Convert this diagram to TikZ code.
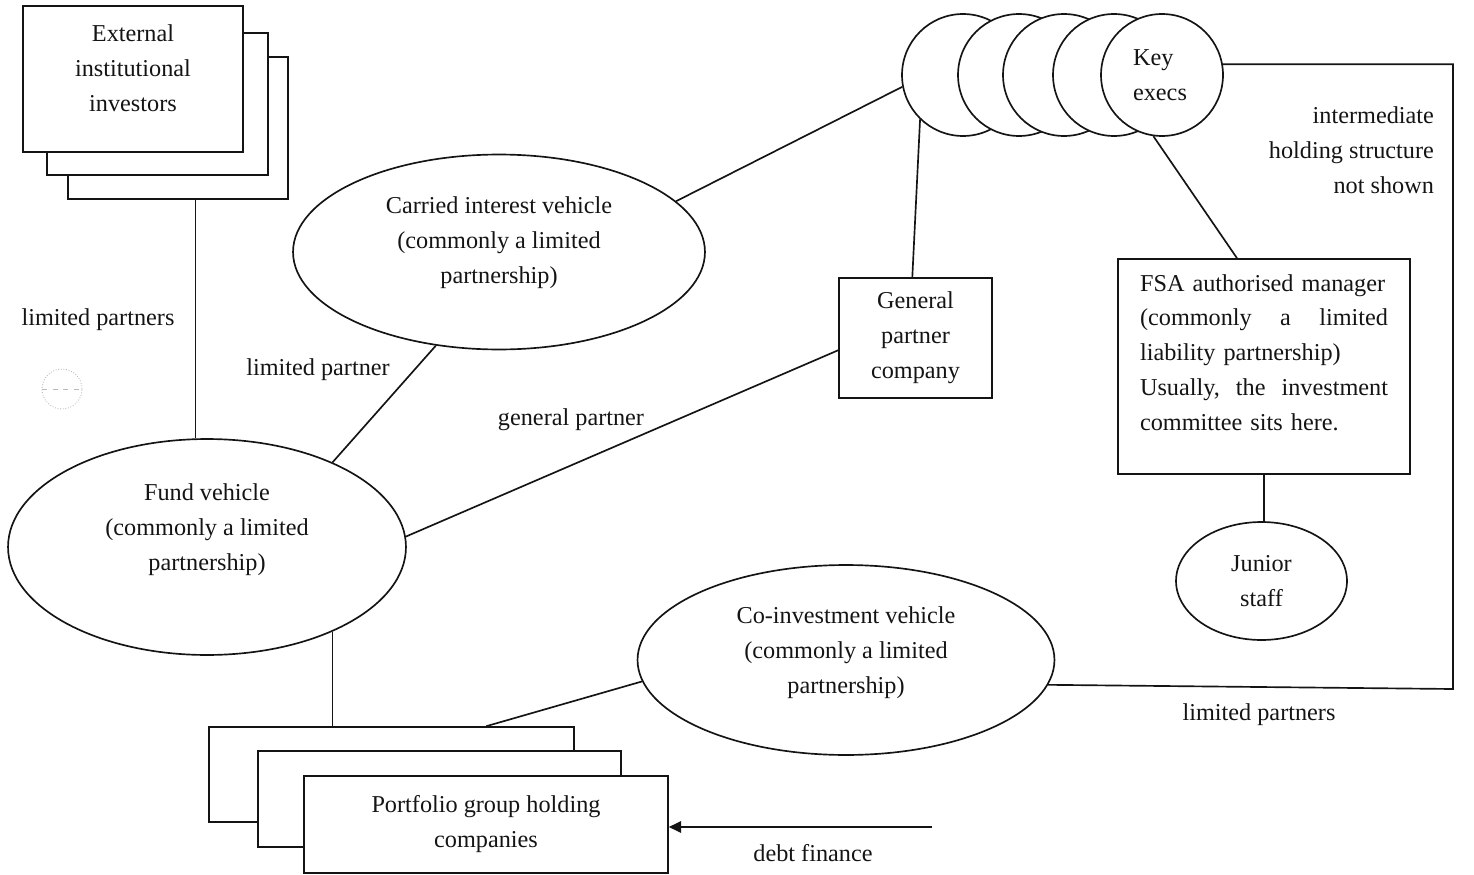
\documentclass[tikz,border=0pt]{standalone}
\usepackage{fontspec}
\setmainfont{Liberation Serif}
\usetikzlibrary{arrows.meta, shapes.geometric}
\definecolor{scanInk}{RGB}{20,20,20}

\begin{document}
\begin{tikzpicture}[
    x=0.02cm, y=-0.02cm,
    font=\fontsize{13.8}{19.9}\selectfont,
    every node/.style={text=scanInk},
    sheet/.style={draw=scanInk, line width=0.95pt, fill=white, inner sep=0pt},
    vehicle/.style={draw=scanInk, line width=0.95pt, ellipse, inner sep=0pt, align=center},
    exec/.style={draw=scanInk, line width=0.95pt, circle, fill=white, minimum size=2.44cm, inner sep=0pt},
    tag/.style={align=center, inner sep=1pt},
    link/.style={draw=scanInk, line width=0.95pt}
]
    \useasboundingbox (0,0) rectangle (1474,875);

    % investors, stacked sheets
    \node[sheet, minimum width=4.4cm, minimum height=2.84cm] (inv3) at (178,128) {};
    \node[sheet, minimum width=4.42cm, minimum height=2.84cm] (inv2) at (157.5,104) {};
    \node[sheet, minimum width=4.4cm, minimum height=2.92cm,
          label={[tag, yshift=0.22cm]center:{External\\institutional\\investors}}] (inv1) at (133,79) {};

    % vehicles
    \node[vehicle, minimum width=7.96cm, minimum height=4.32cm,
          label={[tag, yshift=0.34cm]center:{Fund vehicle\\(commonly a limited\\partnership)}}] (fund) at (207,547) {};
    \node[vehicle, minimum width=8.24cm, minimum height=3.9cm,
          label={[tag, yshift=0.18cm]center:{Carried interest vehicle\\(commonly a limited\\partnership)}}] (carried) at (499,252) {};
    \node[vehicle, minimum width=8.34cm, minimum height=3.8cm,
          label={[tag, yshift=0.14cm]center:{Co-investment vehicle\\(commonly a limited\\partnership)}}] (coinv) at (846,660) {};

    \node[sheet, minimum width=3.06cm, minimum height=2.4cm, align=center] (gp) at (915.5,338) {General\\partner\\company};

    % key execs
    \foreach \cx [count=\i] in {963,1019,1064,1114,1162}
        \node[exec] (c\i) at (\cx,75) {};
    \node[tag, align=left] (keytxt) at (1160,75) {Key\\execs};

    \node[sheet, minimum width=5.84cm, minimum height=4.3cm, text width=4.96cm, align=left] (fsa) at (1264,366.5)
        {FSA authorised manager\\(commonly\hfill a\hfill limited\\liability partnership)\\Usually,\hfill the\hfill investment\\committee sits here.\\[-4pt]~};
    \node[vehicle, minimum width=3.42cm, minimum height=2.36cm] (junior) at (1261.5,581) {Junior\\staff};

    % portfolio, stacked sheets
    \node[sheet, minimum width=7.3cm, minimum height=1.9cm] (pf1) at (391.5,774.5) {};
    \node[sheet, minimum width=7.26cm, minimum height=1.92cm] (pf2) at (439.5,799) {};
    \node[sheet, minimum width=7.28cm, minimum height=1.94cm, align=center] (pf3) at (486,824.5) {Portfolio group holding\\companies};

    \coordinate (debtsrc) at (932,827);
    \coordinate (brcorner) at (1453,689);

    % links
    \draw[link] (fund.96) -- (fund.96 |- inv3.south);
    \draw[link] (carried.236) -- (fund.34);
    \draw[link] (fund.3) -- (gp.189);
    \draw[link] (carried.16) -- (c1.191);
    \draw[link] (gp.93) -- (c1.226);
    \draw[link] (c5.262) -- (fsa.104);
    \draw[link] (fsa.south) -- (fsa.south |- junior.north);
    \draw[link] (c5.10) -| (brcorner) -- (coinv.-7.5);
    \draw[link] (fund.-34) -- (fund.-34 |- pf1.north);
    \draw[link] (coinv.186.5) -- (pf1.27);
    \draw[link, -{Triangle[length=7pt, width=6.5pt]}] (debtsrc) -- (debtsrc -| pf3.east);

    % labels
    \node[tag] (lpleft) at (98,320) {limited partners};
    \node[tag] (lpcarry) at (318,370) {limited partner};
    \node[tag] (gplabel) at (571,420) {general partner};
    \node[tag, align=right, anchor=east] (interlabel) at (1436,150) {intermediate\\holding structure\\not shown};
    \node[tag] (lpright) at (1259,715) {limited partners};
    \node[tag] (debtlabel) at (813,853) {debt finance};

    % faint mark left of the fund
    \draw[gray!55, densely dotted, line width=0.5pt] (62,389) circle [radius=0.4cm];
    \draw[gray!55, dashed, line width=0.5pt] (42,389) -- (82,389);
\end{tikzpicture}
\end{document}
